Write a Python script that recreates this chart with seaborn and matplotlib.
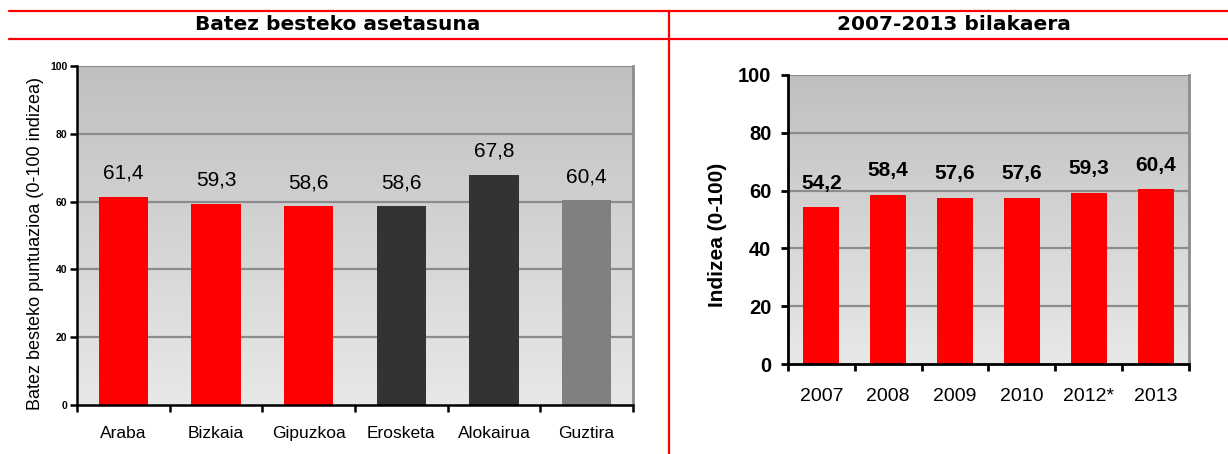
import numpy as np
import pandas as pd
import matplotlib
matplotlib.use("Agg")
import matplotlib.pyplot as plt
import seaborn as sns
from matplotlib.colors import LinearSegmentedColormap
from matplotlib.lines import Line2D

# data
zones = ["Araba", "Bizkaia", "Gipuzkoa", "Erosketa", "Alokairua", "Guztira"]
zone_values = [61.4, 59.3, 58.6, 58.6, 67.8, 60.4]
zone_colors = ["#ff0000", "#ff0000", "#ff0000", "#333333", "#333333", "#808080"]

years = ["2007", "2008", "2009", "2010", "2012*", "2013"]
year_values = [54.2, 58.4, 57.6, 57.6, 59.3, 60.4]

sns.set_theme(style="white")
plt.rcParams["font.family"] = ["Liberation Sans", "DejaVu Sans"]
plt.rcParams["text.color"] = "black"
plt.rcParams["axes.labelcolor"] = "black"
plt.rcParams["xtick.color"] = "black"
plt.rcParams["ytick.color"] = "black"

W, H = 1228, 454
fig = plt.figure(figsize=(W / 100, H / 100), dpi=100)

def px_axes(x0, y0, x1, y1):
    return fig.add_axes([x0 / W, 1 - y1 / H, (x1 - x0) / W, (y1 - y0) / H])

grad = LinearSegmentedColormap.from_list("bg", ["#c0c0c0", "#e8e8e8"])

def style_axes(ax, tick_size, spine_w, ypad, xpad):
    ax.imshow(np.linspace(0, 1, 256).reshape(-1, 1), cmap=grad, aspect="auto",
              extent=[-0.5, 5.5, 0, 100], zorder=0)
    for v in [20, 40, 60, 80, 100]:
        ax.axhline(v, color="#8c8c8c", lw=1.6, zorder=1)
    ax.set_xlim(-0.5, 5.5)
    ax.set_ylim(0, 100)
    ax.spines["top"].set_visible(False)
    ax.spines["right"].set_color("#8c8c8c")
    ax.spines["right"].set_linewidth(2)
    for s in ["left", "bottom"]:
        ax.spines[s].set_color("black")
        ax.spines[s].set_linewidth(spine_w)
        ax.spines[s].set_zorder(5)
    ax.set_yticks([0, 20, 40, 60, 80, 100])
    ax.set_yticklabels(["0", "20", "40", "60", "80", "100"], fontsize=tick_size,
                       fontweight="bold")
    ax.tick_params(axis="y", direction="out", length=5, width=spine_w, pad=ypad, left=True)
    ax.set_xticks(np.arange(-0.5, 6, 1))
    ax.set_xticklabels([])
    ax.tick_params(axis="x", which="major", direction="out", length=5, width=spine_w, bottom=True)
    ax.set_xticks(range(6), minor=True)
    ax.tick_params(axis="x", which="minor", length=0, pad=xpad)

# left chart
ax1 = px_axes(77, 66, 633, 405)
df1 = pd.DataFrame({"zone": zones, "value": zone_values})
sns.barplot(data=df1, x="zone", y="value", hue="zone", palette=zone_colors,
            width=0.53, saturation=1, legend=False, linewidth=0, ax=ax1, zorder=2)
style_axes(ax1, 7.5, 1.8, 2, 15)
ax1.set_xticklabels(zones, minor=True, fontsize=12.5)
ax1.set_xlabel("")
ax1.set_ylabel("Batez besteko puntuazioa (0-100 indizea)", fontsize=13, labelpad=4)
ax1.yaxis.label.set_y(0.475)
for i, v in enumerate(zone_values):
    ax1.text(i, v + 7, f"{v:.1f}".replace(".", ","), ha="center", va="center",
             fontsize=15)

# right chart
ax2 = px_axes(788, 75, 1189, 364)
df2 = pd.DataFrame({"year": years, "value": year_values})
sns.barplot(data=df2, x="year", y="value", color="#ff0000", width=0.54,
            saturation=1, linewidth=0, ax=ax2, zorder=2)
style_axes(ax2, 14.5, 2, 7, 17)
ax2.set_xticklabels(years, minor=True, fontsize=14)
ax2.set_xlabel("")
ax2.set_ylabel("Indizea (0-100)", fontsize=15, fontweight="bold", labelpad=8)
ax2.yaxis.label.set_y(0.446)
for i, v in enumerate(year_values):
    ax2.text(i, v + 8.4, f"{v:.1f}".replace(".", ","), ha="center", va="center",
             fontsize=15, fontweight="bold")

# red frame lines and titles
for y in [11, 39]:
    fig.add_artist(Line2D([9 / W, 1], [1 - y / H, 1 - y / H], color="#ff0000", lw=1.6))
fig.add_artist(Line2D([669 / W, 669 / W], [1 - 11 / H, 0], color="#ff0000", lw=1.6))
fig.text(338 / W, 1 - 25 / H, "Batez besteko asetasuna", ha="center", va="center",
         fontsize=14.5, fontweight="bold", family="DejaVu Sans")
fig.text(954 / W, 1 - 25 / H, "2007-2013 bilakaera", ha="center", va="center",
         fontsize=14.5, fontweight="bold", family="DejaVu Sans")

fig.savefig("out.png", dpi=100)
